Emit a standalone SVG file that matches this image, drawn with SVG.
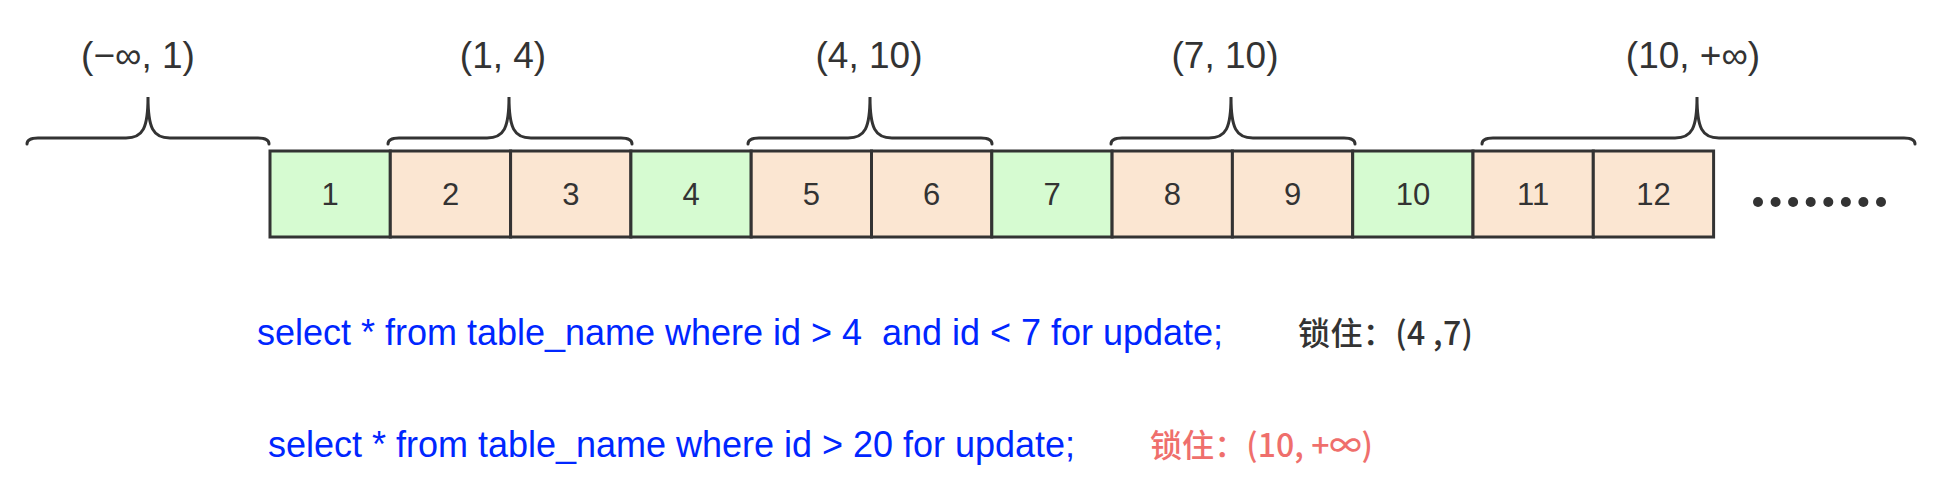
<svg xmlns="http://www.w3.org/2000/svg" width="1946" height="500" viewBox="0 0 1946 500">
<style>
.cell{stroke:#333;stroke-width:3}
.g{fill:#d6fbd1}
.o{fill:#fbe6d2}
.num{font-family:"Liberation Sans",Arial,sans-serif;font-size:31px;fill:#333;text-anchor:middle}
.lbl{font-family:"Liberation Sans",Arial,sans-serif;font-size:37px;fill:#333;text-anchor:middle}
.brace{fill:none;stroke:#333;stroke-width:3;stroke-linecap:round}
.sql{font-family:"Liberation Sans",Arial,sans-serif;font-size:36px;fill:#0026ff}
.cn{font-family:"Noto Sans CJK SC",sans-serif;font-size:32px;font-weight:500}
</style>
<rect width="1946" height="500" fill="#fff"/>
<g id="connectors">
<path class="brace" d="M27,144 Q27,138 38,138 L126,138 C143,138 148,128 148,97 C148,128 153,138 170,138 L258,138 Q269,138 269,144"/>
<path class="brace" d="M388,144 Q388,138 399,138 L487,138 C504,138 509,128 509,97 C509,128 514,138 531,138 L621,138 Q632,138 632,144"/>
<path class="brace" d="M748,144 Q748,138 759,138 L848,138 C865,138 870,128 870,97 C870,128 875,138 892,138 L981,138 Q992,138 992,144"/>
<path class="brace" d="M1111,144 Q1111,138 1122,138 L1209,138 C1226,138 1231,128 1231,97 C1231,128 1236,138 1253,138 L1344,138 Q1355,138 1355,144"/>
<path class="brace" d="M1482,144 Q1482,138 1493,138 L1675,138 C1692,138 1697,128 1697,97 C1697,128 1702,138 1719,138 L1904,138 Q1915,138 1915,144"/>
</g>
<g id="labels">
<text class="lbl" x="138" y="68">(−∞, 1)</text>
<text class="lbl" x="503" y="68">(1, 4)</text>
<text class="lbl" x="869" y="68">(4, 10)</text>
<text class="lbl" x="1225" y="68">(7, 10)</text>
<text class="lbl" x="1693" y="68">(10, +∞)</text>
</g>
<g id="cell1"><rect class="cell g" x="270" y="151" width="120.3" height="86"/><text class="num" x="330.2" y="205">1</text></g>
<g id="cell2"><rect class="cell o" x="390.3" y="151" width="120.3" height="86"/><text class="num" x="450.5" y="205">2</text></g>
<g id="cell3"><rect class="cell o" x="510.6" y="151" width="120.3" height="86"/><text class="num" x="570.8" y="205">3</text></g>
<g id="cell4"><rect class="cell g" x="630.9" y="151" width="120.3" height="86"/><text class="num" x="691.1" y="205">4</text></g>
<g id="cell5"><rect class="cell o" x="751.2" y="151" width="120.3" height="86"/><text class="num" x="811.4" y="205">5</text></g>
<g id="cell6"><rect class="cell o" x="871.5" y="151" width="120.3" height="86"/><text class="num" x="931.7" y="205">6</text></g>
<g id="cell7"><rect class="cell g" x="991.8" y="151" width="120.3" height="86"/><text class="num" x="1052" y="205">7</text></g>
<g id="cell8"><rect class="cell o" x="1112.1" y="151" width="120.3" height="86"/><text class="num" x="1172.3" y="205">8</text></g>
<g id="cell9"><rect class="cell o" x="1232.4" y="151" width="120.3" height="86"/><text class="num" x="1292.6" y="205">9</text></g>
<g id="cell10"><rect class="cell g" x="1352.7" y="151" width="120.3" height="86"/><text class="num" x="1412.9" y="205">10</text></g>
<g id="cell11"><rect class="cell o" x="1473" y="151" width="120.3" height="86"/><text class="num" x="1533.2" y="205">11</text></g>
<g id="cell12"><rect class="cell o" x="1593.3" y="151" width="120.3" height="86"/><text class="num" x="1653.5" y="205">12</text></g>
<g id="dots" fill="#333">
<circle cx="1758" cy="202" r="5"/><circle cx="1775.6" cy="202" r="5"/><circle cx="1793.1" cy="202" r="5"/><circle cx="1810.7" cy="202" r="5"/><circle cx="1828.3" cy="202" r="5"/><circle cx="1845.9" cy="202" r="5"/><circle cx="1863.4" cy="202" r="5"/><circle cx="1881" cy="202" r="5"/>
</g>
<g id="sql1">
<text class="sql" x="257" y="345" textLength="966" xml:space="preserve">select * from table_name where id &gt; 4  and id &lt; 7 for update;</text>
<text class="cn" x="1298" y="345" fill="#333" textLength="175">锁住：(4 ,7)</text>
</g>
<g id="sql2">
<text class="sql" x="268" y="457" textLength="807">select * from table_name where id &gt; 20 for update;</text>
<text class="cn" x="1150" y="457" fill="#ef6f6c" textLength="223">锁住：(10, +∞)</text>
</g>
</svg>
